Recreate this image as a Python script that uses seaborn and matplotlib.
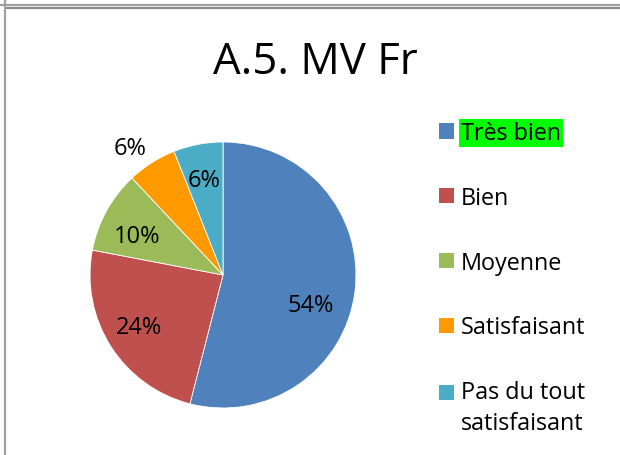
import matplotlib
matplotlib.use("Agg")
import matplotlib.pyplot as plt
import seaborn as sns
import numpy as np
from matplotlib.lines import Line2D
from matplotlib.patches import Patch

# data
labels = ["Très bien", "Bien", "Moyenne", "Satisfaisant", "Pas du tout\nsatisfaisant"]
values = [54, 24, 10, 6, 6]
colors = ["#4F81BD", "#C0504D", "#9BBB59", "#FF9900", "#4BACC6"]
title = "A.5. MV Fr"

sns.set_theme(style="white")
plt.rcParams["font.family"] = ["Open Sans", "DejaVu Sans"]
plt.rcParams["text.color"] = "black"

W, H = 620, 456
fig = plt.figure(figsize=(W / 100, H / 100), dpi=100)

# pie axes: centre (223, 276), radius 133 px
cx, cy, r = 223, 276, 133
ax = fig.add_axes([(cx - r) / W, (H - cy - r) / H, 2 * r / W, 2 * r / H])
wedges, _ = ax.pie(values, colors=sns.color_palette(colors), startangle=90,
                   counterclock=False, radius=1,
                   wedgeprops=dict(linewidth=0.6, edgecolor="white"))
ax.set_xlim(-1, 1)
ax.set_ylim(-1, 1)
ax.set_aspect("equal")

# percentage labels, placed along each wedge's mid angle
lab_dist = [0.69, 0.73, 0.72, 1.2, 0.75]
lab_shift = [-10, -2, 3, 3, 0]
for w, v, d, s in zip(wedges, values, lab_dist, lab_shift):
    a = np.deg2rad((w.theta1 + w.theta2) / 2 + s)
    ax.text(d * np.cos(a), d * np.sin(a), f"{v}%", ha="center",
            va="center_baseline", fontsize=17, color="black", clip_on=False)

fig.text(315 / W, 1 - 74 / H, title, ha="center", va="baseline", fontsize=31.5,
         color="black")

# legend
handles = [Patch(facecolor=c, edgecolor="none") for c in colors]
leg = fig.legend(handles, labels, loc="upper left",
                 bbox_to_anchor=(439 / W, 1 - 122 / H), frameon=False,
                 fontsize=16.8, handlelength=0.65, handleheight=0.65,
                 handletextpad=0.3, labelspacing=1.75, borderpad=0,
                 borderaxespad=0)
t0 = leg.get_texts()[0]
t0.set_bbox(dict(facecolor="#00FF00", edgecolor="none", pad=1.5))
for t in leg.get_texts():
    t.set_color("black")
    t.set_linespacing(1.37)
# two-line entry: keep the square level with the first line
last = leg.legend_handles[-1]
last.set_y(last.get_y() + 11.5)

# frame lines
tr = fig.transFigure
fig.add_artist(Line2D([0, 1], [1 - 5.5 / H] * 2, transform=tr, color="#a0a0a0", lw=1.6))
fig.add_artist(Line2D([5.5 / W, 1], [1 - 8.8 / H] * 2, transform=tr, color="#8a8a8a", lw=1.6))
fig.add_artist(Line2D([5.2 / W] * 2, [0, 1], transform=tr, color="#a0a0a0", lw=1.6))

fig.savefig("out.png", dpi=100, facecolor="white")
